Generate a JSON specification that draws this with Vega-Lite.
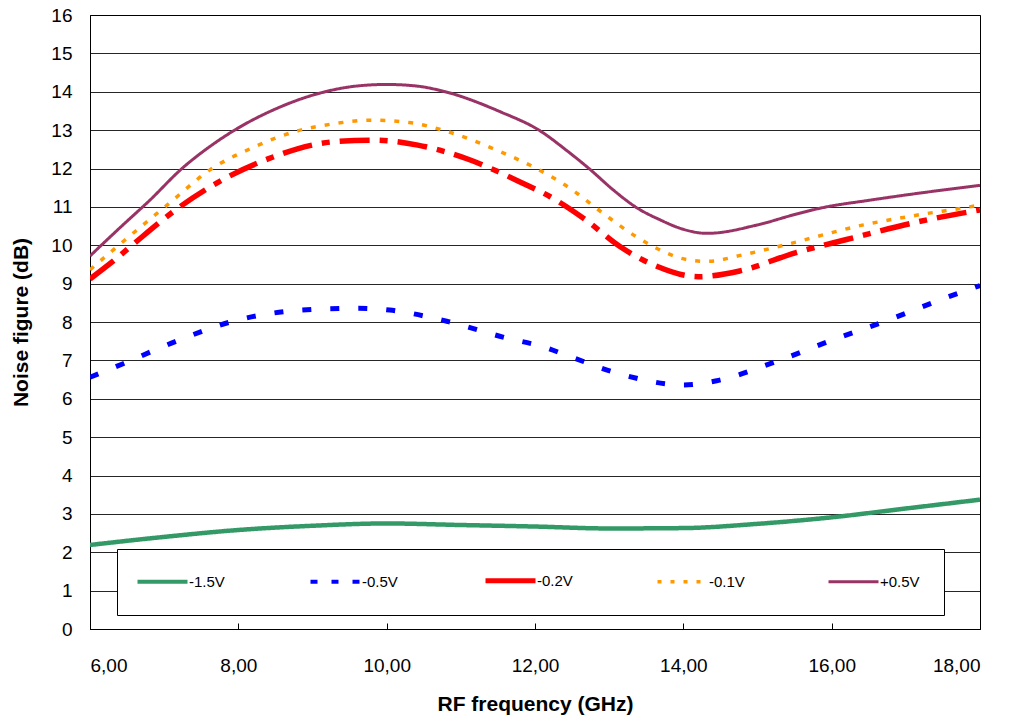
{
  "$schema": "https://vega.github.io/schema/vega-lite/v6.json",
  "autosize": "none",
  "width": 890,
  "height": 614,
  "padding": {"left": 90, "top": 15, "right": 45, "bottom": 91},
  "background": "white",
  "config": {
    "font": "Liberation Sans",
    "view": {"stroke": "black", "strokeWidth": 1},
    "axis": {"labelColor": "black", "titleColor": "black", "domainColor": "black", "tickColor": "black"}
  },
  "data": {"values": [
    {"s": "-1.5V", "f": 6, "nf": 2.19}, {"s": "-1.5V", "f": 7, "nf": 2.4}, {"s": "-1.5V", "f": 8, "nf": 2.58}, {"s": "-1.5V", "f": 9, "nf": 2.69}, {"s": "-1.5V", "f": 10, "nf": 2.75}, {"s": "-1.5V", "f": 11, "nf": 2.71}, {"s": "-1.5V", "f": 12, "nf": 2.67}, {"s": "-1.5V", "f": 13, "nf": 2.62}, {"s": "-1.5V", "f": 14, "nf": 2.63}, {"s": "-1.5V", "f": 15, "nf": 2.74}, {"s": "-1.5V", "f": 16, "nf": 2.91}, {"s": "-1.5V", "f": 17, "nf": 3.14}, {"s": "-1.5V", "f": 18, "nf": 3.37},

    {"s": "-0.5V", "f": 6, "nf": 6.56}, {"s": "-0.5V", "f": 6.43, "nf": 6.9}, {"s": "-0.5V", "f": 7.15, "nf": 7.49}, {"s": "-0.5V", "f": 7.91, "nf": 8.01}, {"s": "-0.5V", "f": 8.85, "nf": 8.31}, {"s": "-0.5V", "f": 9.61, "nf": 8.36}, {"s": "-0.5V", "f": 10.04, "nf": 8.31}, {"s": "-0.5V", "f": 10.83, "nf": 8.01}, {"s": "-0.5V", "f": 11.6, "nf": 7.59}, {"s": "-0.5V", "f": 12.13, "nf": 7.34}, {"s": "-0.5V", "f": 12.47, "nf": 7.1}, {"s": "-0.5V", "f": 13.19, "nf": 6.62}, {"s": "-0.5V", "f": 14.0, "nf": 6.36}, {"s": "-0.5V", "f": 14.45, "nf": 6.47}, {"s": "-0.5V", "f": 15.21, "nf": 6.94}, {"s": "-0.5V", "f": 15.98, "nf": 7.51}, {"s": "-0.5V", "f": 16.79, "nf": 8.07}, {"s": "-0.5V", "f": 17.55, "nf": 8.64}, {"s": "-0.5V", "f": 18, "nf": 8.95},

    {"s": "-0.2V", "f": 6, "nf": 9.12}, {"s": "-0.2V", "f": 6.34, "nf": 9.63}, {"s": "-0.2V", "f": 6.61, "nf": 10.07}, {"s": "-0.2V", "f": 7.21, "nf": 11.0}, {"s": "-0.2V", "f": 7.82, "nf": 11.74}, {"s": "-0.2V", "f": 8.4, "nf": 12.25}, {"s": "-0.2V", "f": 9.3, "nf": 12.7}, {"s": "-0.2V", "f": 9.84, "nf": 12.74}, {"s": "-0.2V", "f": 10.42, "nf": 12.61}, {"s": "-0.2V", "f": 11.1, "nf": 12.24}, {"s": "-0.2V", "f": 11.5, "nf": 11.92}, {"s": "-0.2V", "f": 11.82, "nf": 11.63}, {"s": "-0.2V", "f": 12.2, "nf": 11.27}, {"s": "-0.2V", "f": 12.67, "nf": 10.68}, {"s": "-0.2V", "f": 13.15, "nf": 9.96}, {"s": "-0.2V", "f": 13.62, "nf": 9.47}, {"s": "-0.2V", "f": 14.2, "nf": 9.18}, {"s": "-0.2V", "f": 14.76, "nf": 9.33}, {"s": "-0.2V", "f": 15.52, "nf": 9.81}, {"s": "-0.2V", "f": 16.2, "nf": 10.15}, {"s": "-0.2V", "f": 17.33, "nf": 10.68}, {"s": "-0.2V", "f": 18, "nf": 10.92},

    {"s": "-0.1V", "f": 6, "nf": 9.36}, {"s": "-0.1V", "f": 6.43, "nf": 10.07}, {"s": "-0.1V", "f": 7.03, "nf": 11.03}, {"s": "-0.1V", "f": 7.63, "nf": 11.98}, {"s": "-0.1V", "f": 8.2, "nf": 12.55}, {"s": "-0.1V", "f": 8.76, "nf": 12.96}, {"s": "-0.1V", "f": 9.3, "nf": 13.17}, {"s": "-0.1V", "f": 9.8, "nf": 13.26}, {"s": "-0.1V", "f": 10.3, "nf": 13.2}, {"s": "-0.1V", "f": 10.79, "nf": 12.98}, {"s": "-0.1V", "f": 11.53, "nf": 12.44}, {"s": "-0.1V", "f": 12.04, "nf": 11.98}, {"s": "-0.1V", "f": 12.49, "nf": 11.46}, {"s": "-0.1V", "f": 12.92, "nf": 10.83}, {"s": "-0.1V", "f": 13.35, "nf": 10.24}, {"s": "-0.1V", "f": 13.6, "nf": 9.96}, {"s": "-0.1V", "f": 14.04, "nf": 9.63}, {"s": "-0.1V", "f": 14.32, "nf": 9.58}, {"s": "-0.1V", "f": 14.8, "nf": 9.75}, {"s": "-0.1V", "f": 15.35, "nf": 10.0}, {"s": "-0.1V", "f": 16.43, "nf": 10.53}, {"s": "-0.1V", "f": 17.2, "nf": 10.8}, {"s": "-0.1V", "f": 17.86, "nf": 11.0}, {"s": "-0.1V", "f": 18, "nf": 11.05},

    {"s": "+0.5V", "f": 6, "nf": 9.72}, {"s": "+0.5V", "f": 6.4, "nf": 10.45}, {"s": "+0.5V", "f": 6.81, "nf": 11.18}, {"s": "+0.5V", "f": 7.24, "nf": 12.0}, {"s": "+0.5V", "f": 7.6, "nf": 12.55}, {"s": "+0.5V", "f": 7.95, "nf": 13.0}, {"s": "+0.5V", "f": 8.5, "nf": 13.55}, {"s": "+0.5V", "f": 9.17, "nf": 14.0}, {"s": "+0.5V", "f": 9.6, "nf": 14.15}, {"s": "+0.5V", "f": 10, "nf": 14.19}, {"s": "+0.5V", "f": 10.4, "nf": 14.15}, {"s": "+0.5V", "f": 10.79, "nf": 14.0}, {"s": "+0.5V", "f": 11.53, "nf": 13.48}, {"s": "+0.5V", "f": 12.07, "nf": 12.98}, {"s": "+0.5V", "f": 12.42, "nf": 12.48}, {"s": "+0.5V", "f": 12.74, "nf": 11.98}, {"s": "+0.5V", "f": 13.05, "nf": 11.45}, {"s": "+0.5V", "f": 13.37, "nf": 10.98}, {"s": "+0.5V", "f": 13.7, "nf": 10.65}, {"s": "+0.5V", "f": 13.96, "nf": 10.44}, {"s": "+0.5V", "f": 14.32, "nf": 10.31}, {"s": "+0.5V", "f": 15, "nf": 10.53}, {"s": "+0.5V", "f": 15.5, "nf": 10.8}, {"s": "+0.5V", "f": 15.88, "nf": 10.98}, {"s": "+0.5V", "f": 16.5, "nf": 11.17}, {"s": "+0.5V", "f": 17, "nf": 11.31}, {"s": "+0.5V", "f": 18, "nf": 11.56}
  ]},
  "mark": {"type": "line", "interpolate": "monotone", "clip": true},
  "encoding": {
    "x": {
      "field": "f", "type": "quantitative",
      "scale": {"domain": [6, 18], "nice": false},
      "axis": {
        "title": "RF frequency (GHz)",
        "values": [6, 8, 10, 12, 14, 16, 18],
        "labelExpr": "replace(format(datum.value, '.2f'), '.', ',')",
        "grid": false,
        "tickSize": -6,
        "labelPadding": 33,
        "labelFontSize": 19,
        "titleFontSize": 21,
        "titleFontWeight": "bold",
        "titlePadding": 18,
        "domainWidth": 1
      }
    },
    "y": {
      "field": "nf", "type": "quantitative",
      "scale": {"domain": [0, 16], "nice": false},
      "axis": {
        "title": "Noise figure (dB)",
        "values": [0, 1, 2, 3, 4, 5, 6, 7, 8, 9, 10, 11, 12, 13, 14, 15, 16],
        "grid": true,
        "gridColor": "black",
        "gridWidth": 1,
        "gridOpacity": 0.85,
        "ticks": false,
        "labelPadding": 18,
        "labelFontSize": 19,
        "titleFontSize": 21,
        "titleFontWeight": "bold",
        "titlePadding": 19,
        "domainWidth": 1
      }
    },
    "color": {
      "field": "s", "type": "nominal",
      "scale": {"domain": ["-1.5V", "-0.5V", "-0.2V", "-0.1V", "+0.5V"], "range": ["#339966", "#0000FF", "#FF0000", "#FF9900", "#993366"]},
      "legend": {
        "title": null,
        "orient": "none",
        "legendX": 27,
        "legendY": 534,
        "direction": "horizontal",
        "columns": 5,
        "columnPadding": 77,
        "padding": 24,
        "fillColor": "white",
        "strokeColor": "black",
        "symbolType": "stroke",
        "symbolSize": 2500,
        "symbolStrokeWidth": 4,
        "symbolOffset": 14,
        "labelFontSize": 15,
        "labelColor": "black",
        "labelOffset": 19,
        "encode": {
          "symbols": {
            "update": {
              "strokeDash": {"signal": "datum.value === '-0.5V' ? [7, 14] : datum.value === '-0.1V' ? [4, 9] : [1, 0]"},
              "strokeWidth": {"signal": "datum.value === '-0.1V' ? 3.5 : datum.value === '+0.5V' ? 3 : datum.value === '-0.2V' ? 5 : 4"}
            }
          }
        }
      }
    },
    "strokeDash": {
      "condition": [
        {"test": "datum.s === '-0.5V'", "value": [9, 19]},
        {"test": "datum.s === '-0.2V'", "value": [30, 10, 8, 10]},
        {"test": "datum.s === '-0.1V'", "value": [5, 9]}
      ],
      "value": [1, 0]
    },
    "strokeWidth": {
      "condition": [
        {"test": "datum.s === '-1.5V'", "value": 4.5},
        {"test": "datum.s === '-0.5V'", "value": 5},
        {"test": "datum.s === '-0.2V'", "value": 5.5},
        {"test": "datum.s === '-0.1V'", "value": 3.5}
      ],
      "value": 3
    }
  }
}
